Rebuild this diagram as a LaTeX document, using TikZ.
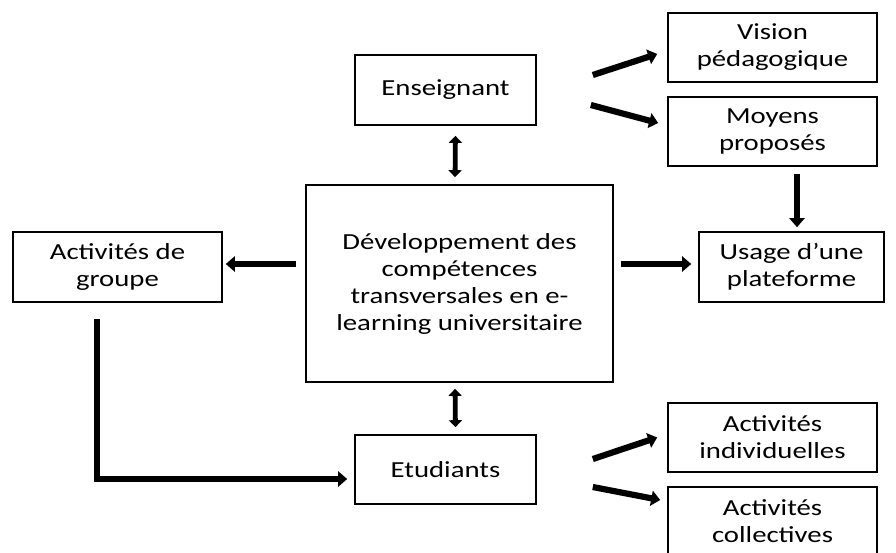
\documentclass[tikz,border=0pt]{standalone}
\usepackage{fontspec}
\setmainfont{Carlito}[FakeStretch=1.25]
\usepackage{tikz}
\usetikzlibrary{arrows.meta}

\begin{document}
\begin{tikzpicture}[x=1pt, y=-1pt,
    every node/.style={draw, line width=1.6pt, align=center, inner sep=0pt,
        font=\fontsize{23}{27}\selectfont},
    arr/.style={line width=6.2pt, -{Triangle[length=9pt,width=15pt]}},
    darr/.style={line width=4.8pt, {Triangle[length=7pt,width=13pt]}-{Triangle[length=7pt,width=13pt]}}]
            \useasboundingbox (0,0) rectangle (896,552);
            \clip (0,0) rectangle (896,552);
            % Boxes
            \node[minimum width=181pt, minimum height=70pt] (ens) at (445.5, 90) {Enseignant};
            \node[minimum width=209pt, minimum height=69pt] (vis) at (772.5, 47.5) {Vision\\p\'edagogique};
            \node[minimum width=209pt, minimum height=69pt] (moy) at (772.5, 131.5) {Moyens\\propos\'es};
            \node[minimum width=307pt, minimum height=197pt] (dev) at (459.5, 283.5) {D\'eveloppement des\\comp\'etences\\transversales en e-\\learning universitaire};
            \node[minimum width=209pt, minimum height=70pt] (grp) at (117.5, 267) {Activit\'es de\\groupe};
            \node[minimum width=185pt, minimum height=70pt] (usa) at (791.5, 267) {Usage d’une\\plateforme};
            \node[minimum width=181pt, minimum height=69pt] (etu) at (445.5, 469.5) {Etudiants};
            \node[minimum width=209pt, minimum height=69pt] (ind) at (772.5, 437.5) {Activit\'es\\individuelles};
            \node[minimum width=209pt, minimum height=68pt] (col) at (772.5, 521) {Activit\'es\\collectives};

            % Arrows
            \draw[darr, shorten <=7pt, shorten >=10pt] ([xshift=-4.5pt]dev.north) -- ([xshift=10pt]ens.south);
            \draw[darr, shorten <=6pt, shorten >=7pt] ([xshift=-4.5pt]dev.south) -- ([xshift=10pt]etu.north);
            \draw[arr, shorten <=9pt, shorten >=3pt] ([yshift=3pt]dev.west |- grp.east) -- ([yshift=3pt]grp.east);
            \draw[arr, shorten <=7pt, shorten >=7pt] ([yshift=3pt]dev.east |- usa.west) -- ([yshift=3pt]usa.west);
            \draw[arr, shorten <=7pt, shorten >=4pt] ([xshift=5.5pt]usa.north |- moy.south) -- ([xshift=5.5pt]usa.north);
            \draw[arr] ([shift={(56,-15)}]ens.east) -- ([shift={(-10,6.5)}]vis.west);
            \draw[arr] ([shift={(54,15)}]ens.east) -- ([shift={(-9,-8.5)}]moy.west);
            \draw[arr] ([shift={(56,-10.5)}]etu.east) -- ([shift={(-10,0)}]ind.west);
            \draw[arr] ([shift={(56,17.5)}]etu.east) -- ([shift={(-7,-21)}]col.west);
            \draw[arr] ([shift={(-20.5,16)}]grp.south) |- ([shift={(-7,9.5)}]etu.west);
        \end{tikzpicture}
\end{document}
